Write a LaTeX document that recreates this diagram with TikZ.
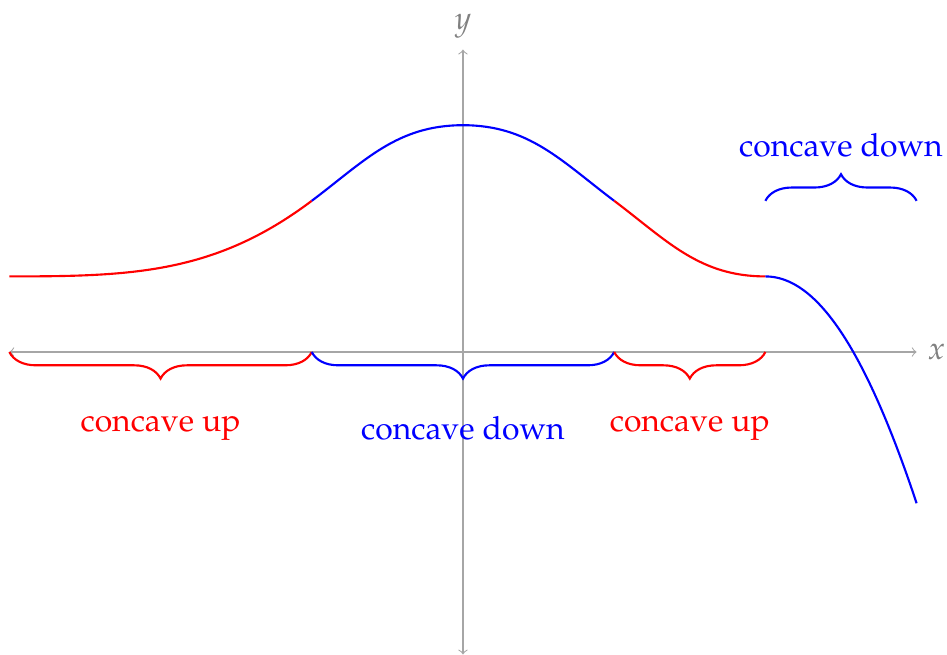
\documentclass[tikz,border=0pt,12pt]{standalone}
\usepackage[T1]{fontenc}
\usepackage{mathpazo}
\usetikzlibrary{decorations.pathreplacing}
\tikzset{axis/.style={black!35,<->},lbl/.style={gray},up/.style={red,thick},down/.style={blue,thick},brc/.style={decorate,decoration={brace,amplitude=10pt}},brm/.style={decorate,decoration={brace,mirror,amplitude=10pt}}}

\begin{document}
\begin{tikzpicture}[x=2cm,y=2cm]
\useasboundingbox (-3.062,-2) rectangle (3.201,2.328);
\draw[axis] (-3,0)--(3,0) node[right,lbl]{$x$};\draw[axis] (0,-2)--(0,2) node[above,lbl]{$y$};
\coordinate (L) at (-3,.5);\coordinate (P) at (-1,1);\coordinate (T) at (0,1.5);\coordinate (Q) at (1,1);\coordinate (S) at (2,.5);\coordinate (R) at (3,-1);
\draw[up] (L) to[out=0,in=217] (P);\draw[down] (P) to[out=37,in=180] (T) to[out=0,in=143] (Q);\draw[up] (Q) to[out=-37,in=180] (S);\draw[down] (S) .. controls (2.34,.5) and (2.66,.02) .. (R);
% braces on the axis
\coordinate (a) at (-3,0);\coordinate (b) at (-1,0);\coordinate (c) at (1,0);\coordinate (d) at (2,0);\coordinate (e) at (2,1);\coordinate (f) at (3,1);
\draw[up,brm] (a)--(b);\draw[down,brm] (b)--(c);\draw[up,brm] (c)--(d);\draw[down,brc] (e)--(f);
\node[red,anchor=north] (cu1) at (-2,-.35){concave up};\node[blue,anchor=north] (cd1) at (0,-.35){concave down};\node[red,anchor=north] (cu2) at (1.5,-.35){concave up};
\node[blue,anchor=base] (cd2) at (2.5,1.29){concave down};
\end{tikzpicture}
\end{document}
